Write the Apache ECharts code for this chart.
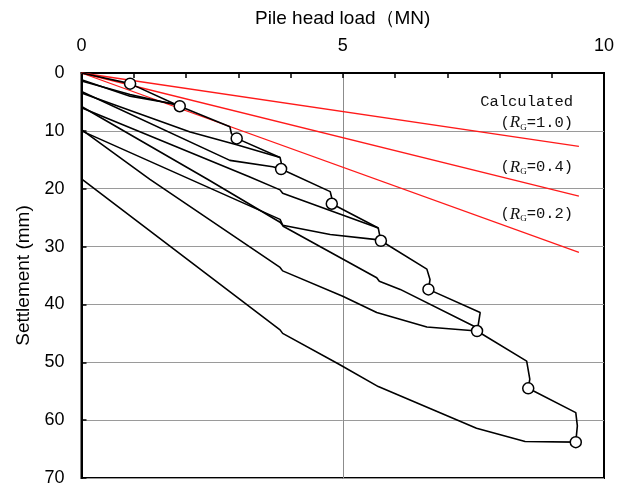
<!DOCTYPE html>
<html>
<head>
<meta charset="utf-8">
<script src="https://cdn.jsdelivr.net/npm/echarts@6/dist/echarts.min.js"></script>
<style>
html,body{margin:0;padding:0;background:#fff;}
#chart{width:629px;height:487px;}
</style>
</head>
<body>
<div id="chart"></div>
<script>
// ---- Data (load in MN, settlement in mm) ----
const xTickLabels = [0, 5, 10];
const yTickLabels = [0, 10, 20, 30, 40, 50, 60, 70];

// virgin loading path (with creep steps)
const virginX = [0, 0.93, 1.88, 2.84, 2.87, 2.97, 3.80, 3.83, 3.82, 4.76, 4.79, 4.79, 5.68, 5.71, 5.73, 6.61, 6.67, 6.64, 7.63, 7.59, 7.57, 8.52, 8.58, 8.55, 9.46, 9.49, 9.46];
const virginY = [0, 1.84, 5.74, 9.3, 10.5, 11.3, 14.6, 15.8, 16.6, 20.5, 21.6, 22.6, 26.8, 28.2, 29.0, 33.9, 35.7, 37.4, 41.4, 43.7, 44.6, 49.8, 52.9, 54.5, 58.7, 61.0, 63.8];

// load-step end points (circles)
const circleX = [0.93, 1.88, 2.97, 3.82, 4.79, 5.73, 6.64, 7.57, 8.55, 9.46];
const circleY = [1.84, 5.74, 11.3, 16.6, 22.6, 29.0, 37.4, 44.6, 54.5, 63.8];

// unloading curves
const unload1X = [1.88, 1.75, 0.93, 0];
const unload1Y = [5.74, 5.3, 4.0, 1.15];
const unload2X = [3.82, 3.66, 2.84, 0];
const unload2Y = [16.6, 16.2, 15.1, 3.2];
const unload3X = [5.73, 5.65, 4.76, 3.85, 3.80, 2.42, 0];
const unload3Y = [29.0, 28.8, 27.9, 26.3, 25.8, 18.4, 5.8];
const unload4X = [7.57, 6.61, 5.65, 5.0, 3.85, 3.80, 1.31, 0];
const unload4Y = [44.6, 43.9, 41.4, 38.6, 34.2, 33.6, 18.4, 9.8];
const unload5X = [9.46, 8.49, 7.56, 5.68, 4.92, 3.85, 3.80, 0];
const unload5Y = [63.8, 63.7, 61.4, 54.2, 50.3, 45.0, 44.4, 18.3];

// reloading curves
const reload1X = [0, 0.93, 1.80];
const reload1Y = [1.4, 3.7, 5.5];
const reload2X = [0, 2.08, 2.97, 3.80];
const reload2Y = [3.45, 10.2, 12.4, 14.6];
const reload3X = [0, 3.2, 3.80, 3.85, 5.68];
const reload3Y = [6.0, 17.9, 20.2, 20.8, 26.8];
const reload4X = [0, 3.80, 3.86, 5.65, 5.70, 6.10, 7.56];
const reload4Y = [10.0, 25.3, 26.5, 35.4, 36.0, 37.4, 44.0];

// calculated curves
const calcX = [0, 9.52];
const calcRG10Y = [0, 12.7];
const calcRG04Y = [0, 21.3];
const calcRG02Y = [0, 31.0];

// ---- Build chart ----
const zip = (xs, ys) => xs.map((x, i) => [x, ys[i]]);
const chart = echarts.init(document.getElementById('chart'), null, {renderer: 'canvas'});

const labelFont = "'Liberation Sans Narrow', 'Liberation Sans', Arial, sans-serif";
const monoFont = "'Liberation Mono', 'DejaVu Sans Mono', monospace";

function blackLine(name, xs, ys) {
  return {
    name, type: 'line', data: zip(xs, ys), showSymbol: false, symbol: 'none',
    lineStyle: {color: '#000', width: 1.6}, z: 3, animation: false, silent: true
  };
}
function redLine(name, ys) {
  return {
    name, type: 'line', data: zip(calcX, ys), showSymbol: false, symbol: 'none',
    lineStyle: {color: '#ff1a1a', width: 1.3}, z: 2, animation: false, silent: true
  };
}

const splitColors = [];
for (let i = 0; i <= 10; i++) splitColors.push(i === 5 ? '#8c8c8c' : 'rgba(0,0,0,0)');

const option = {
  backgroundColor: '#fff',
  animation: false,
  grid: {left: 81.5, top: 73, width: 522.5, height: 406, show: true, borderColor: '#000', borderWidth: 2, backgroundColor: 'transparent'},
  xAxis: {
    type: 'value', position: 'top', min: 0, max: 10, interval: 1,
    name: 'Pile head load（MN)', nameLocation: 'middle', nameGap: 45,
    nameTextStyle: {fontFamily: labelFont, fontSize: 19, color: '#000'},
    axisLine: {show: true, lineStyle: {color: '#000', width: 2}},
    axisTick: {show: true, inside: true, length: 5, lineStyle: {color: '#000', width: 1.5}},
    axisLabel: {
      fontFamily: labelFont, fontSize: 18, color: '#000', margin: 18,
      formatter: v => (xTickLabels.indexOf(v) >= 0 ? String(v) : '')
    },
    splitLine: {show: true, lineStyle: {color: splitColors, width: 1}}
  },
  yAxis: {
    type: 'value', inverse: true, min: 0, max: 70, interval: 10,
    name: 'Settlement (mm)', nameLocation: 'middle', nameGap: 44, nameRotate: 90,
    nameTextStyle: {fontFamily: labelFont, fontSize: 19, color: '#000'},
    axisLine: {show: true, lineStyle: {color: '#000', width: 2}},
    axisTick: {show: true, inside: true, length: 5, lineStyle: {color: '#000', width: 1.5}},
    axisLabel: {
      fontFamily: labelFont, fontSize: 18, color: '#000', margin: 17,
      formatter: v => (yTickLabels.indexOf(v) >= 0 ? String(v) : '')
    },
    splitLine: {show: true, lineStyle: {color: '#9a9a9a', width: 1}}
  },
  series: [
    redLine('RG1.0', calcRG10Y),
    redLine('RG0.4', calcRG04Y),
    redLine('RG0.2', calcRG02Y),
    blackLine('virgin', virginX, virginY),
    blackLine('u1', unload1X, unload1Y),
    blackLine('u2', unload2X, unload2Y),
    blackLine('u3', unload3X, unload3Y),
    blackLine('u4', unload4X, unload4Y),
    blackLine('u5', unload5X, unload5Y),
    blackLine('r1', reload1X, reload1Y),
    blackLine('r2', reload2X, reload2Y),
    blackLine('r3', reload3X, reload3Y),
    blackLine('r4', reload4X, reload4Y),
    {
      name: 'steps', type: 'scatter', data: zip(circleX, circleY), symbol: 'circle', symbolSize: 11,
      itemStyle: {color: '#fff', borderColor: '#000', borderWidth: 1.5, opacity: 1}, z: 5, silent: true
    }
  ]
};
chart.setOption(option);

// ---- Annotations (real text) ----
const annAnchors = [
  {pos: [9.41, 5.0], rich: 'Calculated'},
  {pos: [9.41, 8.6], rich: '({i|R}{s|G}=1.0)'},
  {pos: [9.41, 16.3], rich: '({i|R}{s|G}=0.4)'},
  {pos: [9.41, 24.4], rich: '({i|R}{s|G}=0.2)'}
];
const graphics = annAnchors.map(a => {
  const p = chart.convertToPixel({gridIndex: 0}, a.pos);
  return {
    type: 'text', x: p[0], y: p[1], z: 10,
    style: {
      text: a.rich, align: 'right', verticalAlign: 'middle',
      fontFamily: monoFont, fontSize: 15.5, fill: '#111',
      rich: {
        i: {fontFamily: "'Liberation Serif', serif", fontStyle: 'italic', fontSize: 17, fill: '#111'},
        s: {fontFamily: "'Liberation Serif', serif", fontSize: 9, fill: '#111', verticalAlign: 'bottom', padding: [9, 0, 0, 0]}
      }
    }
  };
});
chart.setOption({graphic: graphics});
</script>
</body>
</html>
